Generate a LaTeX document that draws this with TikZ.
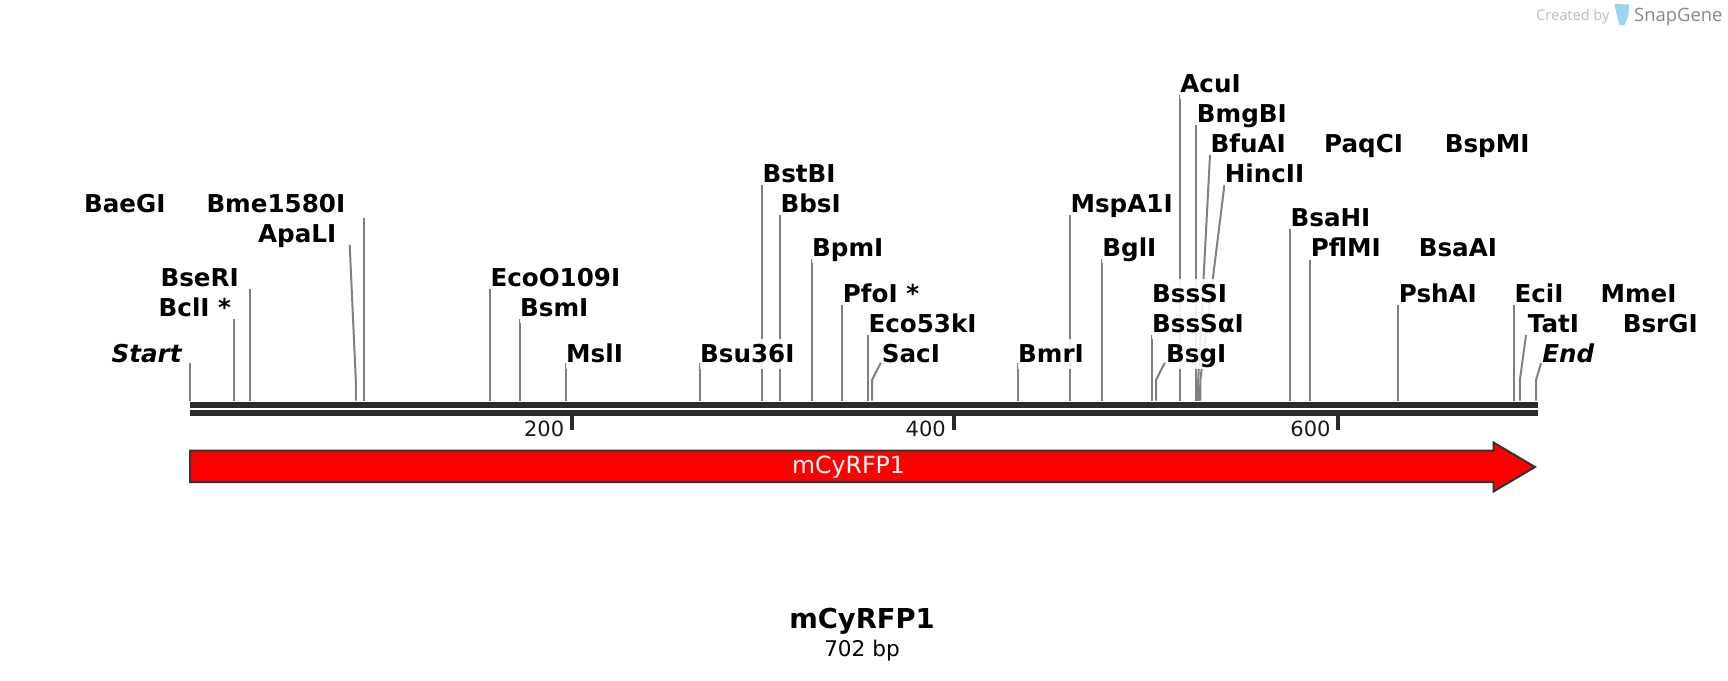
\documentclass[tikz,border=0pt]{standalone}
\usepackage{fontspec}
\setmainfont{DejaVu Sans}
\newfontfamily\sgfont{Open Sans}
\definecolor{cutgray}{HTML}{808080}
\definecolor{strand}{HTML}{2B2B2B}
\definecolor{featred}{HTML}{FF0000}
\definecolor{sgtube}{HTML}{9AD4F0}
\definecolor{sgtext}{HTML}{7F8A94}
\definecolor{sglight}{HTML}{B9BDC1}
\tikzset{
  cutline/.style={draw=cutgray,line width=2pt},
  lab/.style={anchor=base west,xshift=-1pt,yshift=-0.8pt,inner xsep=0pt,inner ysep=2pt,text height=21.7pt,text depth=4.3pt,
    fill=white,fill opacity=.88,text opacity=1,text=black,font=\bfseries\fontsize{24.6}{28}\selectfont},
  num/.style={anchor=base east,yshift=-1pt,inner sep=0pt,font=\fontsize{21}{25}\selectfont,text=black!90},
}
\newcommand\site[4]{\coordinate (#1t) at (#3,#4);\coordinate (#1k) at (#2,380);\coordinate (#1b) at (#2,400.7);\draw[cutline] (#1t) -- (#1k) -- (#1b);}
\newcommand\lab[4]{\node[lab] (#1) at (#2,#3) {#4\hspace{15pt}};}
\begin{document}
\begin{tikzpicture}[x=1pt,y=-1pt]
\useasboundingbox (0,0) rectangle (1728,680);
\fill[white] (0,0) rectangle (1728,680);
% cut lines
\site{Start}{190.1}{190.1}{363.3}
\site{Bcl}{234.1}{234.1}{319}
\site{Bse}{249.8}{249.8}{289}
\site{Apa}{355.8}{349.7}{245}
\site{Bme}{363.9}{363.9}{217.7}
\site{EcoO}{489.8}{489.8}{289}
\site{Bsm}{520}{520}{319}
\site{Msl}{565.9}{565.9}{363.3}
\site{Bsu}{699.8}{699.8}{362.7}
\site{Bst}{761.8}{761.8}{185}
\site{Bbs}{779.8}{779.8}{215}
\site{Bpm}{811.9}{811.9}{259.3}
\site{Pfo}{841.8}{841.8}{305}
\site{EcoF}{867.8}{867.8}{335}
\site{Sac}{872}{880.8}{362.7}
\site{Bmr}{1017.8}{1017.8}{362.7}
\site{Msp}{1069.9}{1069.9}{215}
\site{Bgl}{1102}{1102}{259.3}
\site{BssA}{1151.8}{1151.8}{335}
\site{Bsg}{1156}{1164.8}{362.7}
\site{Acu}{1180}{1180}{95}
\site{Bmg}{1195.8}{1195.8}{125}
\site{Bfu}{1198.2}{1210}{155}
\site{Hin}{1200.3}{1224.4}{185}
\coordinate (clA) at (1197,385);\coordinate (clB) at (1197,400.7);\draw[cutline] (clA) -- (clB);
\coordinate (clC) at (1199.2,385);\coordinate (clD) at (1199.2,400.7);\draw[cutline] (clC) -- (clD);
\site{Bsa}{1289.9}{1289.9}{229}
\site{Pfl}{1309.8}{1309.8}{260}
\site{Psh}{1397.8}{1397.8}{305}
\site{Eci}{1513.8}{1513.8}{305}
\site{Tat}{1519.9}{1526}{335}
\site{End}{1536}{1541}{363.3}
% backbone
\fill[strand] (190,402) rectangle (1537.9,408);
\fill[strand] (190,410) rectangle (1537.9,416);
\fill[strand] (570.2,416) rectangle (573.8,430);
\fill[strand] (952.1,416) rectangle (955.7,430);
\fill[strand] (1335.9,416) rectangle (1339.5,430);
\node[num] (n200) at (564.4,435.7) {200};
\node[num] (n400) at (946,435.7) {400};
\node[num] (n600) at (1330.7,435.7) {600};
% feature
\draw[fill=featred,draw=black!80,line width=2pt,line join=miter] (190,450.5) -- (1493.5,450.5) -- (1493.5,442.5) -- (1535,467) -- (1493.5,491.5) -- (1493.5,482) -- (190,482) -- cycle;
\node[text=white,font=\fontsize{23.6}{27}\selectfont,inner sep=0pt] (feat) at (848.5,467.5) {mCyRFP1};
% labels
\lab{lStart}{112.4}{361.7}{\itshape Start}
\lab{lBcl}{159.5}{315.7}{BclI *}
\lab{lBse}{161.4}{285.7}{BseRI}
\lab{lBae}{84.9}{211.7}{BaeGI}
\lab{lBme}{207.3}{211.7}{Bme1580I}
\lab{lApa}{259}{241.7}{ApaLI}
\lab{lEcoO}{491.3}{285.7}{EcoO109I}
\lab{lBsm}{521}{315.7}{BsmI}
\lab{lMsl}{567}{361.7}{MslI}
\lab{lBsu}{701}{361.7}{Bsu36I}
\lab{lBst}{763.3}{181.7}{BstBI}
\lab{lBbs}{781.3}{211.7}{BbsI}
\lab{lBpm}{813}{255.7}{BpmI}
\lab{lPfo}{843.7}{301.7}{PfoI *}
\lab{lEcoF}{869.3}{331.7}{Eco53kI}
\lab{lSac}{882.7}{361.7}{SacI}
\lab{lBmr}{1019}{361.7}{BmrI}
\lab{lMsp}{1071.4}{211.7}{MspA1I}
\lab{lBgl}{1103.2}{255.7}{BglI}
\lab{lBssS}{1152.9}{301.7}{BssSI}
\lab{lBssA}{1152.9}{331.7}{BssSαI}
\lab{lBsg}{1167}{361.7}{BsgI}
\lab{lAcu}{1181.2}{91.7}{AcuI}
\lab{lBmg}{1197.7}{121.7}{BmgBI}
\lab{lBfu}{1211.5}{151.7}{BfuAI}
\lab{lHin}{1225.6}{181.7}{HincII}
\lab{lPaq}{1325}{151.7}{PaqCI}
\lab{lBsp}{1445.6}{151.7}{BspMI}
\lab{lBsa}{1291.4}{225.7}{BsaHI}
\lab{lPfl}{1311.7}{255.7}{PflMI}
\lab{lBsaA}{1419.6}{255.7}{BsaAI}
\lab{lPsh}{1399.7}{301.7}{PshAI}
\lab{lEci}{1515.3}{301.7}{EciI}
\lab{lMme}{1601.4}{301.7}{MmeI}
\lab{lTat}{1528.7}{331.7}{TatI}
\lab{lBsr}{1623.6}{331.7}{BsrGI}
\lab{lEnd}{1543.2}{361.7}{\itshape End}
% title
\node[anchor=base,inner sep=0pt,font=\bfseries\fontsize{27.4}{31}\selectfont] (title) at (862,628) {mCyRFP1};
\node[anchor=base,inner sep=0pt,font=\fontsize{21.6}{25}\selectfont] (size) at (862,656) {702 bp};
% branding
\node[anchor=base west,inner sep=0pt,text=sglight,font=\sgfont\fontsize{14.6}{18}\selectfont] (cby) at (1536,20) {Created by};
\fill[sgtube] (1614.5,4) -- (1629,4.5) -- (1628.5,15) -- (1624.5,25) -- (1619.5,25) -- (1616.5,14) -- cycle;
\node[anchor=base west,inner sep=0pt,text=sgtext,font=\sgfont\fontsize{18.4}{22}\selectfont] (sg) at (1634,21) {SnapGene};
\end{tikzpicture}
\end{document}
